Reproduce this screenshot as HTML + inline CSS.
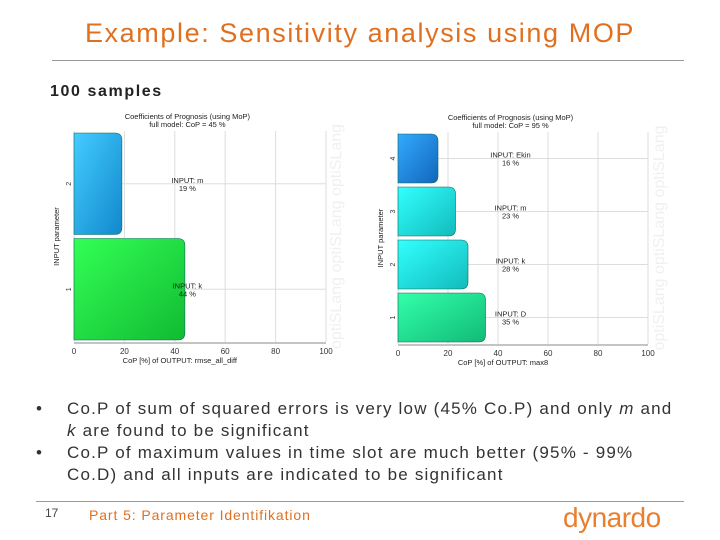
<!DOCTYPE html>
<html><head><meta charset="utf-8"><style>
body{margin:0;width:720px;height:540px;background:#fff;font-family:"Liberation Sans",sans-serif;position:relative;overflow:hidden}
.abs{position:absolute}
.b{position:absolute;font-size:17px;line-height:22px;color:#333;white-space:nowrap}
</style></head><body>
<div class="abs" style="left:0;width:720px;top:18px;text-align:center;font-size:27px;letter-spacing:1.6px;color:#e0701f">Example: Sensitivity analysis using MOP</div>
<div class="abs" style="left:52px;width:632px;top:60px;height:1px;background:#999"></div>
<div class="abs" style="left:50px;top:83px;font-size:16px;font-weight:bold;letter-spacing:1.6px;color:#222">100 samples</div>
<svg class="abs" id="chart" style="left:0;top:0" width="720" height="400"></svg>
<div class="b" style="left:36px;top:398px">•</div>
<div class="b" style="left:67px;top:398px;letter-spacing:1.2px">Co.P of sum of squared errors is very low (45% Co.P) and only <i>m</i> and<br><i>k</i> are found to be significant</div>
<div class="b" style="left:36px;top:442px">•</div>
<div class="b" style="left:67px;top:442px;letter-spacing:1.2px">Co.P of maximum values in time slot are much better (95% - 99%<br>Co.D) and all inputs are indicated to be significant</div>
<div class="abs" style="left:36px;width:648px;top:501px;height:1px;background:#999"></div>
<div class="abs" style="left:45px;top:506px;font-size:12px;color:#444">17</div>
<div class="abs" style="left:89px;top:507px;font-size:14px;letter-spacing:0.9px;color:#e0701f">Part 5: Parameter Identifikation</div>
<div class="abs" style="left:563px;top:502px;font-size:28px;color:#e8802f;letter-spacing:-0.5px">dynardo</div>
<script>
const leftCats=["INPUT: k","INPUT: m"];
const leftVals=[44,19];
const rightCats=["INPUT: D","INPUT: k","INPUT: m","INPUT: Ekin"];
const rightVals=[35,28,23,16];
const ticksX=[0,20,40,60,80,100];
const NS="http://www.w3.org/2000/svg";
const svg=document.getElementById('chart');
function mk(t,a,txt){const e=document.createElementNS(NS,t);for(const k in a)e.setAttribute(k,a[k]);if(txt!==undefined)e.textContent=txt;svg.appendChild(e);return e;}
const defs=mk('defs',{});
function grad(id,c1,c2){const g=document.createElementNS(NS,'linearGradient');g.setAttribute('id',id);g.setAttribute('x1','0');g.setAttribute('y1','0');g.setAttribute('x2','1');g.setAttribute('y2','1');
[[0,c1],[1,c2]].forEach(([o,c])=>{const s=document.createElementNS(NS,'stop');s.setAttribute('offset',o);s.setAttribute('stop-color',c);g.appendChild(s);});defs.appendChild(g);}
grad('gb','#44ccff','#1188cc');grad('gg','#33ff55','#11bb33');grad('gc','#33ffff','#11bbbb');grad('gt','#33ffaa','#11bb77');grad('gd','#33aaff','#1166bb');
function chart(o){
  const {x0,x1,xmax,y0,y1,cats,vals,fills,xlab,name}=o;
  const sx=v=>x0+v/xmax*(x1-x0);
  const n=cats.length,bh=(y1-y0)/n;
  const yc=i=>y1-(i+0.5)*bh;
  ticksX.forEach(t=>{if(t>xmax)return;
    const l=mk('line',{x1:sx(t),x2:sx(t),y1:y0,y2:y1,stroke:'#ddd','stroke-width':1});
    
    const tx=mk('text',{x:sx(t),y:y1+12,'font-size':8,'text-anchor':'middle',fill:'#333'},t);
    });
  const ax=mk('line',{x1:x0,x2:x1,y1:y1+1,y2:y1+1,stroke:'#888'});
  
  const wm=mk('text',{x:o.wx,y:(y0+y1)/2,'font-size':16,'text-anchor':'middle',fill:'#f0f0f0',transform:`rotate(-90 ${o.wx} ${(y0+y1)/2})`},'optiSLang   optiSLang   optiSLang');
  
  cats.forEach((c,i)=>{
    const g=mk('line',{x1:x0,x2:x1,y1:yc(i),y2:yc(i),stroke:'#ddd'});
    
    const w=sx(vals[i])-x0;
    const p=mk('path',{d:`M${x0},${yc(i)-bh/2+2}h${w-7}q7,0 7,7v${bh-18}q0,7 -7,7h${-(w-7)}z`,fill:`url(#${fills[i]})`,stroke:'#0a6a5a','stroke-width':0.6});
    
    const lx=sx(xmax*0.45);
    const t1=mk('text',{x:lx,y:yc(i)-1,'font-size':7.5,'text-anchor':'middle',fill:'#222'},c);
    
    const t2=mk('text',{x:lx,y:yc(i)+7,'font-size':7.5,'text-anchor':'middle',fill:'#222'},vals[i]+' %');
    
    const ty=mk('text',{x:x0-6,y:yc(i)+3,'font-size':7,'text-anchor':'middle',fill:'#333',transform:`rotate(-90 ${x0-6} ${yc(i)})`},i+1);
    
  });
  const tt=mk('text',{x:sx(xmax*0.45),y:y0-12,'font-size':7.5,'text-anchor':'middle',fill:'#222'},'Coefficients of Prognosis (using MoP)');
  
  const t3=mk('text',{x:sx(xmax*0.45),y:y0-4,'font-size':7.5,'text-anchor':'middle',fill:'#222'},o.full);
  
  const xl=mk('text',{x:sx(xmax*0.42),y:y1+21,'font-size':7.5,'text-anchor':'middle',fill:'#222'},xlab);
  
  const yl=mk('text',{x:x0-15,y:(y0+y1)/2,'font-size':7.5,'text-anchor':'middle',fill:'#222',transform:`rotate(-90 ${x0-15} ${(y0+y1)/2})`},'INPUT parameter');
  
}
chart({name:'left-chart',x0:74,x1:326,xmax:100,y0:131,y1:342,cats:leftCats,vals:leftVals,fills:['gg','gb'],full:'full model: CoP =    45 %',xlab:'CoP [%] of OUTPUT: rmse_all_diff',wx:341});
chart({name:'right-chart',x0:398,x1:648,xmax:100,y0:132,y1:344,cats:rightCats,vals:rightVals,fills:['gt','gc','gc','gd'],full:'full model: CoP =    95 %',xlab:'CoP [%] of OUTPUT: max8',wx:664});
</script>
</body></html>
